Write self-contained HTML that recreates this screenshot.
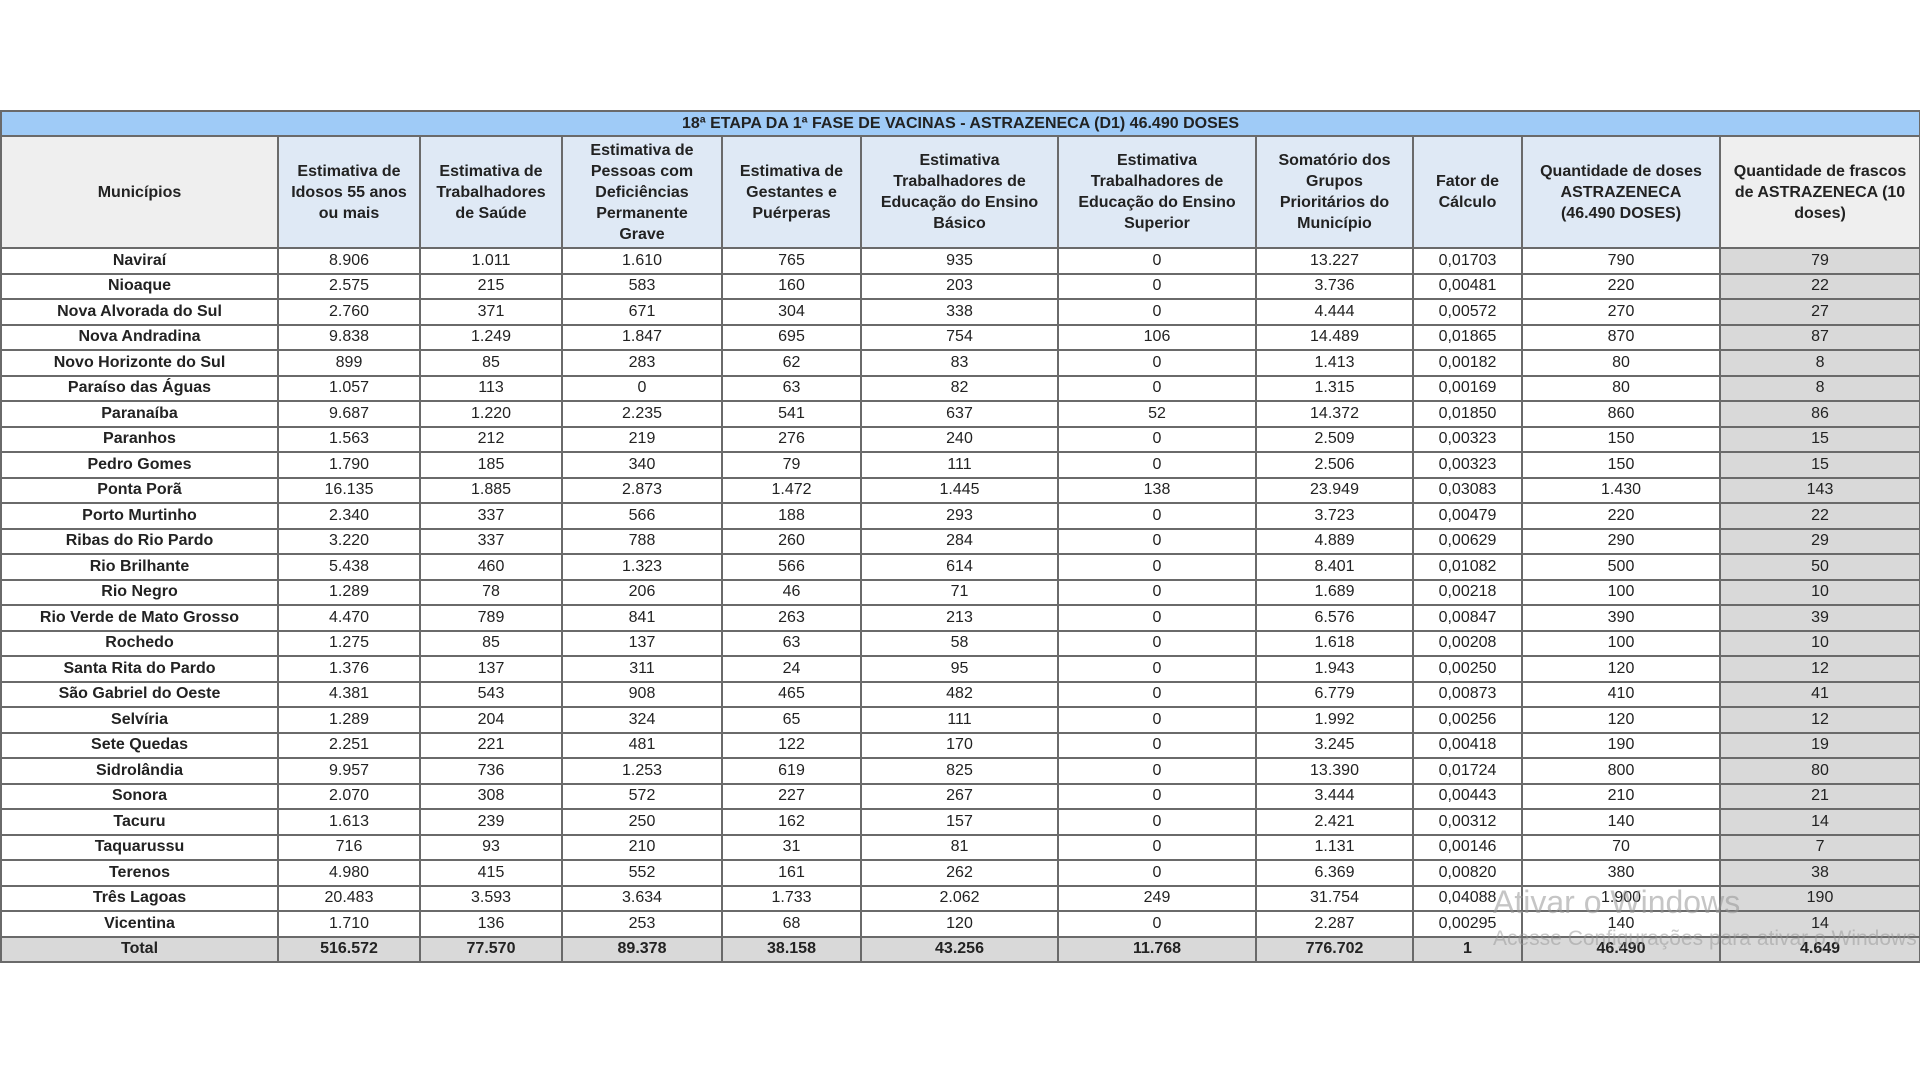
<!DOCTYPE html>
<html><head><meta charset="utf-8">
<style>
html,body{margin:0;padding:0;background:#fff;width:1920px;height:1080px;overflow:hidden;font-family:"Liberation Sans",Arial,sans-serif;}
table{position:absolute;left:0;top:110px;width:1919px;border-collapse:collapse;table-layout:fixed;}
td,th{border:2px solid #6a6a6a;padding:0;text-align:center;color:#222;font-size:16px;line-height:18px;overflow:hidden;white-space:nowrap;}
th{font-weight:bold;background:#dfe9f5;white-space:normal;line-height:21px;padding:0 12px;}
th.grey{background:#efefef;}
.title td{background:#9fcbf7;font-weight:bold;height:23px;line-height:20px;font-size:16px;}
tbody td{height:23.5px;}
td.name{font-weight:bold;}
td.last{background:#d9d9d9;}
tr.total td{background:#d9d9d9;font-weight:bold;}
.wm1{position:absolute;left:1493px;top:884px;font-size:32px;color:rgba(150,150,150,0.55);white-space:nowrap;}
.wm2{position:absolute;left:1493px;top:927px;font-size:21px;color:rgba(150,150,150,0.5);white-space:nowrap;}
</style></head><body>
<table>
<colgroup><col style="width:277px"><col style="width:142px"><col style="width:142px"><col style="width:160px"><col style="width:139px"><col style="width:197px"><col style="width:198px"><col style="width:157px"><col style="width:109px"><col style="width:198px"><col style="width:200px"></colgroup>
<thead>
<tr class="title"><td colspan="11">18ª ETAPA DA 1ª FASE DE VACINAS - ASTRAZENECA (D1) 46.490 DOSES</td></tr>
<tr style="height:112px">
<th class="grey">Municípios</th>
<th>Estimativa de Idosos 55 anos ou mais</th>
<th>Estimativa de Trabalhadores de Saúde</th>
<th>Estimativa de Pessoas com Deficiências Permanente Grave</th>
<th>Estimativa de Gestantes e Puérperas</th>
<th>Estimativa Trabalhadores de Educação do Ensino Básico</th>
<th>Estimativa Trabalhadores de Educação do Ensino Superior</th>
<th>Somatório dos Grupos Prioritários do Município</th>
<th>Fator de Cálculo</th>
<th>Quantidade de doses ASTRAZENECA (46.490 DOSES)</th>
<th class="grey">Quantidade de frascos de ASTRAZENECA (10 doses)</th>
</tr></thead>
<tbody id="tb"></tbody>
</table>
<div class="wm1">Ativar o Windows</div>
<div class="wm2">Acesse Configurações para ativar o Windows</div>
<script>
const municipios=["Naviraí","Nioaque","Nova Alvorada do Sul","Nova Andradina","Novo Horizonte do Sul","Paraíso das Águas","Paranaíba","Paranhos","Pedro Gomes","Ponta Porã","Porto Murtinho","Ribas do Rio Pardo","Rio Brilhante","Rio Negro","Rio Verde de Mato Grosso","Rochedo","Santa Rita do Pardo","São Gabriel do Oeste","Selvíria","Sete Quedas","Sidrolândia","Sonora","Tacuru","Taquarussu","Terenos","Três Lagoas","Vicentina"];
const idosos=["8.906","2.575","2.760","9.838","899","1.057","9.687","1.563","1.790","16.135","2.340","3.220","5.438","1.289","4.470","1.275","1.376","4.381","1.289","2.251","9.957","2.070","1.613","716","4.980","20.483","1.710"];
const saude=["1.011","215","371","1.249","85","113","1.220","212","185","1.885","337","337","460","78","789","85","137","543","204","221","736","308","239","93","415","3.593","136"];
const deficiencias=["1.610","583","671","1.847","283","0","2.235","219","340","2.873","566","788","1.323","206","841","137","311","908","324","481","1.253","572","250","210","552","3.634","253"];
const gestantes=["765","160","304","695","62","63","541","276","79","1.472","188","260","566","46","263","63","24","465","65","122","619","227","162","31","161","1.733","68"];
const basico=["935","203","338","754","83","82","637","240","111","1.445","293","284","614","71","213","58","95","482","111","170","825","267","157","81","262","2.062","120"];
const superior=["0","0","0","106","0","0","52","0","0","138","0","0","0","0","0","0","0","0","0","0","0","0","0","0","0","249","0"];
const somatorio=["13.227","3.736","4.444","14.489","1.413","1.315","14.372","2.509","2.506","23.949","3.723","4.889","8.401","1.689","6.576","1.618","1.943","6.779","1.992","3.245","13.390","3.444","2.421","1.131","6.369","31.754","2.287"];
const fator=["0,01703","0,00481","0,00572","0,01865","0,00182","0,00169","0,01850","0,00323","0,00323","0,03083","0,00479","0,00629","0,01082","0,00218","0,00847","0,00208","0,00250","0,00873","0,00256","0,00418","0,01724","0,00443","0,00312","0,00146","0,00820","0,04088","0,00295"];
const doses=["790","220","270","870","80","80","860","150","150","1.430","220","290","500","100","390","100","120","410","120","190","800","210","140","70","380","1.900","140"];
const frascos=["79","22","27","87","8","8","86","15","15","143","22","29","50","10","39","10","12","41","12","19","80","21","14","7","38","190","14"];
const totals=["Total","516.572","77.570","89.378","38.158","43.256","11.768","776.702","1","46.490","4.649"];
const cols=[municipios,idosos,saude,deficiencias,gestantes,basico,superior,somatorio,fator,doses,frascos];
const tb=document.getElementById('tb');
for(let i=0;i<municipios.length;i++){
  const tr=document.createElement('tr');
  
  
  cols.forEach((c,j)=>{
    const td=document.createElement('td');
    td.textContent=c[i];
    if(j===0)td.className='name';
    if(j===10)td.className='last';
    
    
    tr.appendChild(td);
  });
  tb.appendChild(tr);
}
const trt=document.createElement('tr');
trt.className='total';


totals.forEach((v,j)=>{
  const td=document.createElement('td');
  td.textContent=v;
  
  
  trt.appendChild(td);
});
tb.appendChild(trt);
</script>
</body></html>
